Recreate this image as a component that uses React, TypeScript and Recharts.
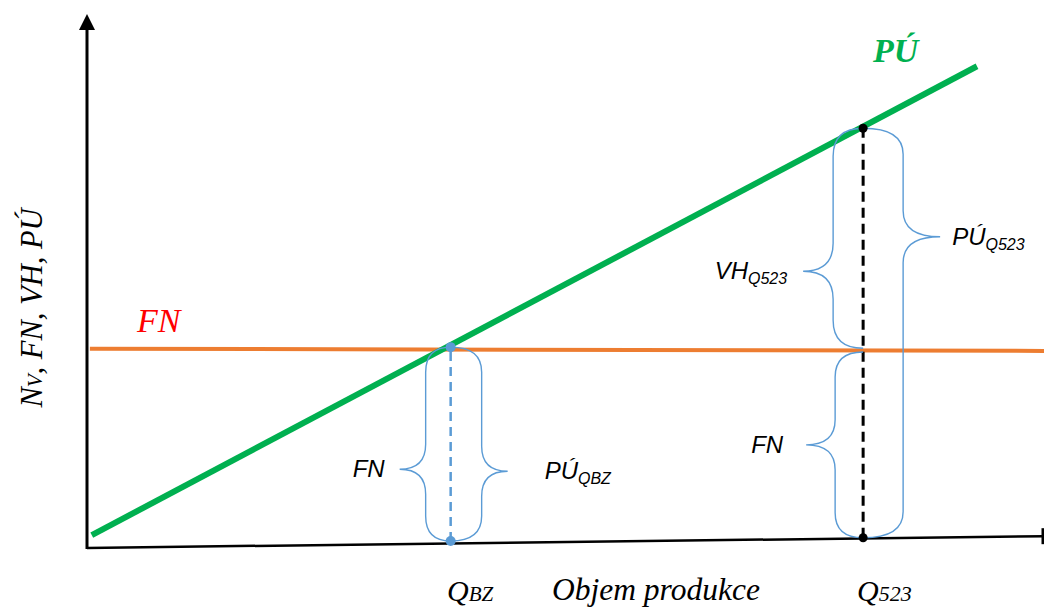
import { LineChart, Line, XAxis, YAxis, ReferenceLine, ReferenceDot } from 'recharts';

// production volume (x) and value (y), both in relative units 0..100
const AXIS_Q = [0, 100];
const AXIS_Y = [0.2, 2.4];
const PU_Q = [0.5, 93];
const PU_V = [2.6, 90.4];
const FN_Q = [0.3, 100];
const FN_V = [37.5, 37.1];

const Q_BZ = 38;
const Q_523 = 81.1;
const BZ_BOTTOM = 1.5;
const BZ_TOP = 37.8;
const Q523_BOTTOM = 2.1;
const Q523_FN = 37.2;
const Q523_TOP = 78.8;

const puData = PU_Q.map((q, i) => ({ q, v: PU_V[i] }));
const fnData = FN_Q.map((q, i) => ({ q, v: FN_V[i] }));

const BLUE = '#5b9bd5';
const GREEN = '#00b050';
const ORANGE = '#ed7d31';
const SERIF = '"Liberation Serif", "Times New Roman", serif';
const SANS = '"Liberation Sans", Arial, sans-serif';

type BraceOpts = {
  dir: 1 | -1;
  body: number;
  tip: number;
  tipAt: number;
  r: number;
  label: string;
  sub?: string;
  gap: number;
};

const brace = (o: BraceOpts) => (props: any) => {
  const { x1, y1, x2, y2 } = props;
  const x0 = x1;
  const yB = Math.max(y1, y2);
  const yT = Math.min(y1, y2);
  const xb = x0 + o.dir * o.body;
  const xt = x0 + o.dir * o.tip;
  const ym = yT + (yB - yT) * o.tipAt;
  const r = o.r;
  const d = `M${x0},${yT} Q${xb},${yT} ${xb},${yT + r} L${xb},${ym - r} Q${xb},${ym} ${xt},${ym} Q${xb},${ym} ${xb},${ym + r} L${xb},${yB - r} Q${xb},${yB} ${x0},${yB}`;
  const lx = xt + o.dir * o.gap;
  return (
    <g>
      <path d={d} fill="none" stroke={BLUE} strokeWidth={1.4} />
      <text
        x={lx}
        y={ym + 8}
        textAnchor={o.dir < 0 ? 'end' : 'start'}
        fontFamily={SANS}
        fontStyle="italic"
        fontSize={24}
        fill="#000"
      >
        {o.label}
        {o.sub && (
          <tspan fontSize={16} dy={5}>
            {o.sub}
          </tspan>
        )}
      </text>
    </g>
  );
};

const yAxisShape = (props: any) => {
  const { x1, y1, x2, y2 } = props;
  return (
    <g>
      <line x1={x1} y1={y1} x2={x2} y2={y2 + 8} stroke="#000" strokeWidth={3} />
      <path d={`M${x2 - 8},${y2 + 15} L${x2 + 8},${y2 + 15} L${x2},${y2 - 1} Z`} fill="#000" />
    </g>
  );
};

const xAxisShape = (props: any) => {
  const { x1, y1, x2, y2 } = props;
  return (
    <g>
      <line x1={x1} y1={y1} x2={x2} y2={y2} stroke="#000" strokeWidth={2.5} />
      <line x1={x2 - 1} y1={y2 - 8} x2={x2 - 1} y2={y2 + 8} stroke="#000" strokeWidth={3} />
    </g>
  );
};

export default function App() {
  return (
    <div style={{ position: 'absolute', left: 0, top: 0, width: 1044, height: 608, background: '#fff' }}>
      <LineChart width={1044} height={608} margin={{ top: 15, right: 0, bottom: 59, left: 87 }}>
        <XAxis type="number" dataKey="q" domain={AXIS_Q} hide allowDataOverflow />
        <YAxis type="number" dataKey="v" domain={[0, 100]} hide allowDataOverflow />

        <ReferenceLine segment={[{ x: 0, y: 0 }, { x: 0, y: 100 }]} shape={yAxisShape} ifOverflow="visible" />
        <ReferenceLine
          segment={[{ x: AXIS_Q[0], y: AXIS_Y[0] }, { x: AXIS_Q[1], y: AXIS_Y[1] }]}
          shape={xAxisShape}
          ifOverflow="visible"
        />

        <Line
          data={fnData}
          dataKey="v"
          stroke={ORANGE}
          strokeWidth={4}
          dot={false}
          isAnimationActive={false}
          type="linear"
        />
        <Line
          data={puData}
          dataKey="v"
          stroke={GREEN}
          strokeWidth={6}
          dot={false}
          isAnimationActive={false}
          type="linear"
        />

        <ReferenceLine
          segment={[{ x: Q_BZ, y: BZ_BOTTOM }, { x: Q_BZ, y: BZ_TOP }]}
          stroke={BLUE}
          strokeWidth={2.5}
          strokeDasharray="9 6"
        />
        <ReferenceLine
          segment={[{ x: Q_523, y: Q523_BOTTOM }, { x: Q_523, y: Q523_TOP }]}
          stroke="#000"
          strokeWidth={3}
          strokeDasharray="10 6"
        />

        <ReferenceLine
          segment={[{ x: Q_BZ, y: BZ_BOTTOM }, { x: Q_BZ, y: BZ_TOP }]}
          shape={brace({ dir: -1, body: 25, tip: 51, tipAt: 0.63, r: 25, label: 'FN', gap: 15 })}
        />
        <ReferenceLine
          segment={[{ x: Q_BZ, y: BZ_BOTTOM }, { x: Q_BZ, y: BZ_TOP }]}
          shape={brace({ dir: 1, body: 31, tip: 57, tipAt: 0.64, r: 25, label: 'PÚ', sub: 'QBZ', gap: 37 })}
        />
        <ReferenceLine
          segment={[{ x: Q_523, y: Q523_FN + 0.4 }, { x: Q_523, y: Q523_TOP }]}
          shape={brace({ dir: -1, body: 30, tip: 60, tipAt: 0.65, r: 28, label: 'VH', sub: 'Q523', gap: 16 })}
        />
        <ReferenceLine
          segment={[{ x: Q_523, y: Q523_BOTTOM }, { x: Q_523, y: Q523_FN - 0.3 }]}
          shape={brace({ dir: -1, body: 28, tip: 57, tipAt: 0.5, r: 25, label: 'FN', gap: 23 })}
        />
        <ReferenceLine
          segment={[{ x: Q_523, y: Q523_BOTTOM }, { x: Q_523, y: Q523_TOP }]}
          shape={brace({ dir: 1, body: 40, tip: 77, tipAt: 0.265, r: 26, label: 'PÚ', sub: 'Q523', gap: 12 })}
        />

        <ReferenceDot x={Q_BZ} y={BZ_TOP} r={5} fill={BLUE} stroke="none" />
        <ReferenceDot x={Q_BZ} y={BZ_BOTTOM} r={5} fill={BLUE} stroke="none" />
        <ReferenceDot x={Q_523} y={Q523_TOP} r={4.5} fill="#000" stroke="none" />
        <ReferenceDot x={Q_523} y={Q523_BOTTOM} r={4.5} fill="#000" stroke="none" />
      </LineChart>

      <svg width={1044} height={608} style={{ position: 'absolute', left: 0, top: 0, pointerEvents: 'none' }}>
        <text
          transform="translate(42,308) rotate(-90)"
          textAnchor="middle"
          fontFamily={SERIF}
          fontStyle="italic"
          fontSize={30.5}
          fill="#000"
        >
          N<tspan fontSize={21}>V</tspan>, FN, VH, PÚ
        </text>
        <text x={137} y={332} fontFamily={SERIF} fontStyle="italic" fontSize={34} fill="#ff0000">
          FN
        </text>
        <text x={873} y={62} fontFamily={SERIF} fontStyle="italic" fontWeight="bold" fontSize={34} fill={GREEN}>
          PÚ
        </text>
        <text x={447} y={601} fontFamily={SERIF} fontStyle="italic" fontSize={30} fill="#000">
          Q<tspan fontSize={21}>BZ</tspan>
        </text>
        <text x={552} y={600} fontFamily={SERIF} fontStyle="italic" fontSize={31.5} fill="#000">
          Objem produkce
        </text>
        <text x={857} y={601} fontFamily={SERIF} fontStyle="italic" fontSize={30} fill="#000">
          Q<tspan fontSize={22}>523</tspan>
        </text>
      </svg>
    </div>
  );
}
